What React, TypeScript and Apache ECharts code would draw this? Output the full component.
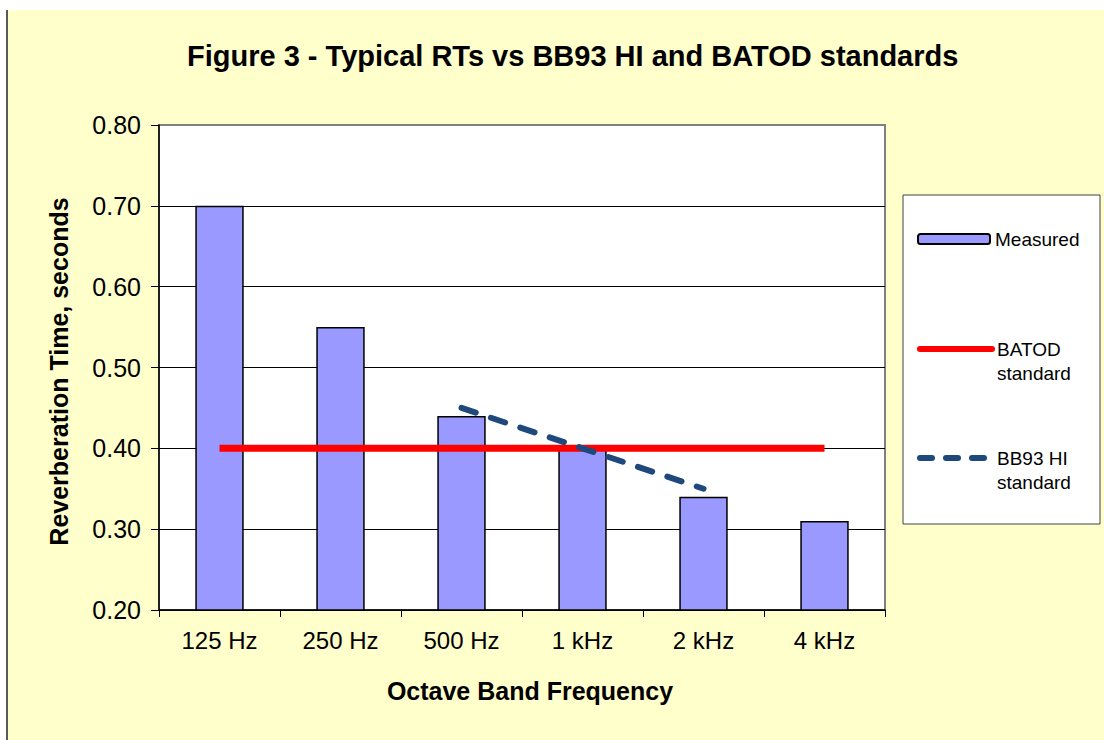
import React, { useEffect, useRef } from "react";
import * as echarts from "echarts";

const categories = ["125 Hz", "250 Hz", "500 Hz", "1 kHz", "2 kHz", "4 kHz"];
const measured = [0.7, 0.55, 0.44, 0.4, 0.34, 0.31];
const batod = [0.4, 0.4, 0.4, 0.4, 0.4, 0.4];
const bb93: (number | null)[] = [null, null, 0.45, 0.4, 0.35, null];

const titleText = "Figure 3 - Typical RTs vs BB93 HI and BATOD standards";
const xName = "Octave Band Frequency";
const yName = "Reverberation Time, seconds";
const seriesNames = ["Measured", "BATOD standard", "BB93 HI standard"];

const FONT = "Arial, 'Liberation Sans', Helvetica, sans-serif";

export default function App() {
  const ref = useRef<HTMLDivElement>(null);
  useEffect(() => {
    document.body.style.margin = "0";
    const chart = echarts.init(ref.current!, null, { renderer: "svg" });
    const legendText = { fontSize: 19, color: "#000", lineHeight: 24, fontFamily: FONT };
    chart.setOption({
      animation: false,
      backgroundColor: "transparent",
      textStyle: { fontFamily: FONT },
      title: {
        text: titleText,
        left: 187,
        top: 41,
        padding: 0,
        textStyle: { fontSize: 29, fontWeight: "bold", color: "#000", fontFamily: FONT },
      },
      grid: {
        left: 159,
        top: 125,
        width: 726,
        height: 485,
        show: true,
        backgroundColor: "#ffffff",
        borderColor: "#808080",
        borderWidth: 2,
      },
      xAxis: {
        type: "category",
        data: categories,
        axisLine: { show: true, lineStyle: { color: "#000", width: 1.5 } },
        axisTick: { show: true, alignWithLabel: false, length: 7, lineStyle: { color: "#000", width: 1 } },
        axisLabel: { color: "#000", fontSize: 24, margin: 18, fontFamily: FONT },
        name: xName,
        nameLocation: "middle",
        nameGap: 68,
        nameTextStyle: {
          color: "#000",
          fontSize: 25,
          fontWeight: "bold",
          fontFamily: FONT,
          padding: [0, 0, 0, 16],
        },
        splitLine: { show: false },
      },
      yAxis: {
        type: "value",
        min: 0.2,
        max: 0.8,
        interval: 0.1,
        axisLine: { show: true, lineStyle: { color: "#000", width: 1.5 } },
        axisTick: { show: true, length: 8, lineStyle: { color: "#000", width: 1 } },
        axisLabel: {
          color: "#000",
          fontSize: 25,
          margin: 18,
          fontFamily: FONT,
          formatter: (v: number) => v.toFixed(2),
        },
        splitLine: {
          show: true,
          lineStyle: {
            color: ["#000", "#000", "#000", "#000", "#000", "#000", "#808080"],
            width: 1,
          },
        },
        name: yName,
        nameLocation: "middle",
        nameRotate: 90,
        nameGap: 88,
        nameTextStyle: {
          color: "#000",
          fontSize: 25,
          fontWeight: "bold",
          fontFamily: FONT,
          padding: [0, 8, 0, 0],
        },
      },
      legend: [
        {
          data: [seriesNames[0]],
          left: 917,
          top: 227,
          padding: 0,
          itemWidth: 72,
          itemHeight: 10,
          textStyle: legendText,
          selectedMode: false,
        },
        {
          data: [seriesNames[1]],
          left: 917,
          top: 313,
          padding: 0,
          itemWidth: 72,
          itemHeight: 10,
          textStyle: legendText,
          formatter: () => " \nBATOD\nstandard",
          lineStyle: { width: 6, cap: "round" },
          itemStyle: { opacity: 0 },
          selectedMode: false,
        },
        {
          data: [seriesNames[2]],
          left: 917,
          top: 422,
          padding: 0,
          itemWidth: 72,
          itemHeight: 10,
          textStyle: legendText,
          formatter: () => " \nBB93 HI\nstandard",
          lineStyle: { width: 6, cap: "round", type: [12, 14] },
          itemStyle: { opacity: 0 },
          selectedMode: false,
        },
      ],
      graphic: [
        {
          type: "rect",
          z: -1,
          shape: { x: 903, y: 195, width: 197, height: 329 },
          style: { fill: "#ffffff", stroke: "#404040", lineWidth: 1 },
        },
      ],
      series: [
        {
          name: seriesNames[0],
          type: "bar",
          data: measured,
          barWidth: "40%",
          itemStyle: { color: "#9999FF", borderColor: "#000", borderWidth: 1.5 },
          z: 2,
        },
        {
          name: seriesNames[1],
          type: "line",
          data: batod,
          symbol: "none",
          color: "#FF0000",
          lineStyle: { color: "#FF0000", width: 7 },
          z: 3,
        },
        {
          name: seriesNames[2],
          type: "line",
          data: bb93,
          symbol: "none",
          color: "#1F497D",
          lineStyle: { color: "#1F497D", width: 6, type: [15, 16], cap: "round" },
          z: 4,
        },
      ],
    });
    return () => chart.dispose();
  }, []);

  return (
    <div style={{ position: "relative", width: 1104, height: 740, background: "#ffffff", overflow: "hidden" }}>
      <div style={{ position: "absolute", left: 6, top: 10, width: 2, height: 730, background: "#595959" }} />
      <div style={{ position: "absolute", left: 8, top: 10, width: 1096, height: 730, background: "#FFFFCC" }} />
      <div ref={ref} style={{ position: "absolute", left: 0, top: 0, width: 1104, height: 740 }} />
    </div>
  );
}
